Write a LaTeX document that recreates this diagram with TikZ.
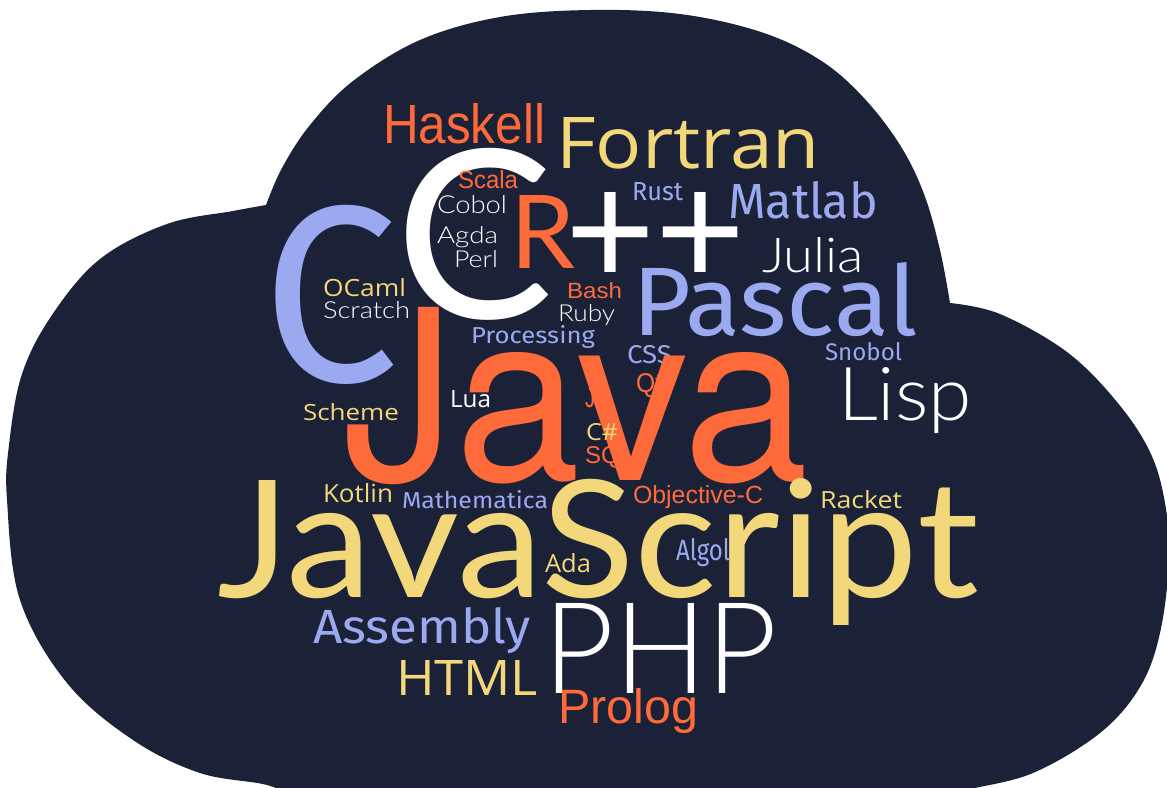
\documentclass[tikz,border=0pt]{standalone}
\usepackage{fontspec}
\usepackage{graphicx}
\newfontfamily\fos{Open Sans}
\newfontfamily\flato{Lato Light}
\newfontfamily\flatoreg{Lato}
\newfontfamily\ffira{Fira Sans}
\newfontfamily\flib{Liberation Sans}
\newfontfamily\fheros{TeX Gyre Heros}
\definecolor{cloudbg}{HTML}{1B2237}
\definecolor{corange}{HTML}{FF6A3B}
\definecolor{cyellow}{HTML}{F2D87A}
\definecolor{cperi}{HTML}{9BA9F0}
\definecolor{cwhite}{HTML}{FFFFFF}
\tikzset{word/.style={anchor=base west, inner sep=0pt, outer sep=0pt}}
% name, x, baseline y, width, height, colour, font, text
\newcommand\wordat[8]{\node[word,text=#6] (#1) at (#2,#3) {\resizebox{#4pt}{#5pt}{#7#8}};}
\begin{document}
\begin{tikzpicture}[x=1pt,y=-1pt]
\useasboundingbox (0,0) rectangle (1167,787);
\clip (0,0) rectangle (1167,787);
\fill[cloudbg]
  plot[smooth,tension=0.6] coordinates {(300,800) (267,785) (200,773) (133,740) (67,683) (20,600) (7,500) (9,445) (22,374) (52,315) (100,259) (167,224) (233,211) (266,205)}
  -- plot[smooth,tension=0.6] coordinates {(266,205) (282,168) (310,125) (353,81) (420,40) (500,17) (590,10) (680,14) (761,32) (820,60) (863,97) (900,145) (924,194) (940,250) (950,303)}
  -- plot[smooth,tension=0.6] coordinates {(950,303) (1000,314) (1067,352) (1117,402) (1150,452) (1165,503) (1169,560) (1160,633) (1140,687) (1100,733) (1033,773) (967,790) (940,800)}
  -- cycle;

\wordat{haskell}{383}{143}{162}{40}{corange}{\flib}{Haskell}
\wordat{fortran}{556}{168}{264}{51}{cyellow}{\fos}{Fortran}
\node[word,text=cwhite] (cpp) at (395,318) {\resizebox{158pt}{170pt}{\flatoreg C}\hspace{12pt}\raisebox{32pt}{\resizebox{180pt}{94pt}{\flatoreg ++}}};
\wordat{r}{510}{268}{65}{73}{corange}{\flatoreg}{R}
\wordat{scala}{458}{188}{60}{18}{corange}{\flib}{Scala}
\wordat{cobol}{437}{213}{70}{18}{cwhite}{\flato}{Cobol}
\wordat{agda}{437}{243}{61}{17}{cwhite}{\flato}{Agda}
\wordat{perl}{454}{267}{44}{17}{cwhite}{\flato}{Perl}
\wordat{ocaml}{323}{296}{83}{18}{cyellow}{\fos}{OCaml}
\wordat{scratch}{323}{318}{87}{17}{cwhite}{\flato}{Scratch}
\wordat{bash}{567}{298}{55}{16}{corange}{\flib}{Bash}
\wordat{ruby}{558}{321}{57}{17}{cwhite}{\flato}{Ruby}
\wordat{processing}{471}{343}{124}{18}{cperi}{\ffira}{Processing}
\wordat{rust}{632}{200}{51}{18}{cperi}{\ffira}{Rust}
\wordat{matlab}{728}{218}{150}{37}{cperi}{\ffira}{Matlab}
\wordat{julia}{762}{272}{102}{35}{cwhite}{\flato}{Julia}
\wordat{pascal}{632}{335}{286}{73}{cperi}{\ffira}{Pascal}
\wordat{snobol}{825}{360}{77}{18}{cperi}{\ffira}{Snobol}
\wordat{css}{627}{363}{45}{18}{cperi}{\ffira}{CSS}
\wordat{bigc}{262}{381}{136}{176}{cperi}{\ffira}{C}
\wordat{java}{343}{480}{466}{173}{corange}{\fheros}{Java}
\wordat{lisp}{838}{420}{134}{53}{cwhite}{\flato}{Lisp}
\wordat{scheme}{303}{420}{96}{17}{cyellow}{\fos}{Scheme}
\wordat{lua}{450}{407}{41}{17}{cwhite}{\fos}{Lua}
\wordat{j}{585}{407}{10}{19}{corange}{\flib}{J}
\wordat{qt}{636}{392}{26}{19}{corange}{\flib}{Qt}
\wordat{csharp}{586}{440}{32}{17}{cyellow}{\fos}{C\#}
\wordat{sql}{585}{463}{48}{17}{corange}{\flib}{SQL}
\wordat{kotlin}{323}{502}{70}{19}{cyellow}{\fos}{Kotlin}
\wordat{mathematica}{402}{508}{146}{18}{cperi}{\ffira}{Mathematica}
\wordat{objc}{633}{503}{130}{18}{corange}{\flib}{Objective-C}
\wordat{racket}{820}{508}{82}{18}{cyellow}{\fos}{Racket}
\wordat{javascript}{217}{597}{761}{119}{cyellow}{\flatoreg}{JavaScript}
\wordat{algol}{676}{560}{54}{22}{cperi}{\ffira}{Algol}
\wordat{ada}{545}{572}{46}{19}{cyellow}{\fos}{Ada}
\wordat{assembly}{313}{643}{218}{36}{cperi}{\ffira}{Assembly}
\wordat{html}{396}{695}{142}{35}{cyellow}{\fos}{HTML}
\wordat{php}{543}{693}{235}{90}{cwhite}{\flato}{PHP}
\wordat{prolog}{558}{723}{140}{35}{corange}{\flib}{Prolog}
\end{tikzpicture}
\end{document}
